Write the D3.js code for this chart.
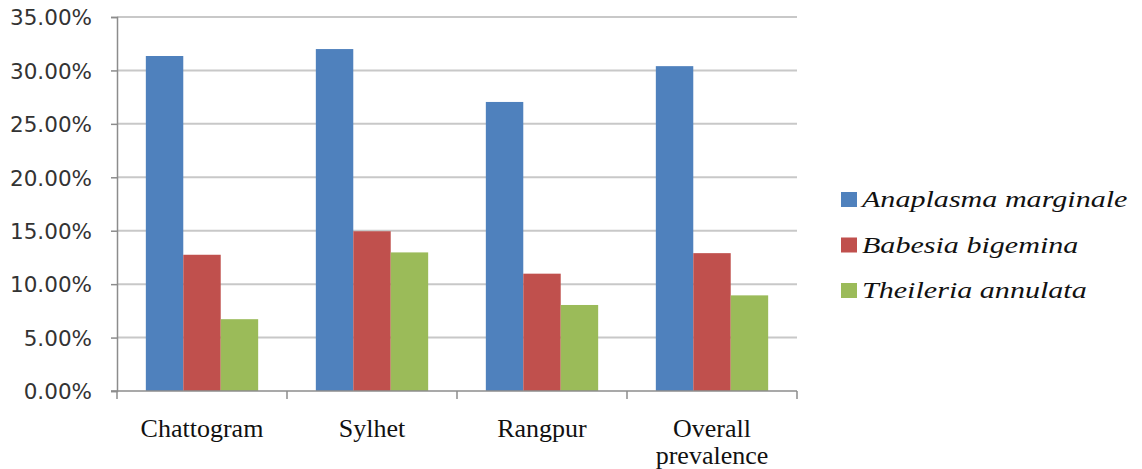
<!DOCTYPE html>
<html>
<head>
<meta charset="utf-8">
<script src="https://cdnjs.cloudflare.com/ajax/libs/d3/7.8.5/d3.min.js"></script>
<style>
  html, body { margin: 0; padding: 0; background: #fff; }
  svg { display: block; }
</style>
</head>
<body>
<svg id="chart" width="1142" height="469"></svg>
<script>
// Regions and prevalence (%) per parasite
const categories = ["Chattogram", "Sylhet", "Rangpur", "Overall prevalence"];
const seriesNames = ["Anaplasma marginale", "Babesia bigemina", "Theileria annulata"];
const anaplasma = [31.35, 32.0, 27.05, 30.4];
const babesia = [12.75, 14.95, 10.98, 12.9];
const theileria = [6.72, 12.97, 8.05, 8.95];
const yTicks = [0, 5, 10, 15, 20, 25, 30, 35];
const colors = ["#4f81bd", "#c0504d", "#9bbb59"];

const seriesValues = [anaplasma, babesia, theileria];

const svg = d3.select("#chart");
const margin = { left: 117, right: 345, top: 17, bottom: 78 };
const W = 1142, H = 469;
const plotW = W - margin.left - margin.right;
const plotH = H - margin.top - margin.bottom;

const g = svg.append("g").attr("transform", `translate(${margin.left},${margin.top})`);

const x0 = d3.scaleBand().domain(categories).range([0, plotW]).paddingInner(0).paddingOuter(0);
const x1 = d3.scaleBand().domain(seriesNames).range([0, x0.bandwidth()]).paddingInner(0).paddingOuter(0.77);
const y = d3.scaleLinear().domain([0, 35]).range([plotH, 0]);

// horizontal gridlines
g.append("g").selectAll("line").data(yTicks.filter(t => t > 0)).join("line")
  .attr("x1", 0).attr("x2", plotW)
  .attr("y1", d => y(d)).attr("y2", d => y(d))
  .attr("stroke", "#c8c8c8").attr("stroke-width", 2);

// bars
const groups = g.append("g").selectAll("g").data(categories).join("g")
  .attr("transform", d => `translate(${x0(d)},0)`);
groups.selectAll("rect")
  .data((d, i) => seriesNames.map((s, j) => ({ s, v: seriesValues[j][i], c: colors[j] })))
  .join("rect")
  .attr("x", d => x1(d.s))
  .attr("width", x1.bandwidth())
  .attr("y", d => y(d.v))
  .attr("height", d => plotH - y(d.v))
  .attr("fill", d => d.c);

// y axis
const yAxis = d3.axisLeft(y).tickValues(yTicks).tickSize(6).tickFormat(d => d.toFixed(2) + "%");
const ya = g.append("g").call(yAxis);
ya.select(".domain").attr("stroke", "#8c8c8c").attr("stroke-width", 1.5);
ya.selectAll(".tick line").attr("stroke", "#8c8c8c").attr("stroke-width", 1.5);
ya.selectAll(".tick text")
  .attr("x", -25)
  .attr("dy", "0.36em")
  .attr("font-family", "DejaVu Sans, Verdana, sans-serif")
  .attr("font-size", 21.5).attr("fill", "#333");

// x axis with ticks between categories
const xa = g.append("g").attr("transform", `translate(0,${plotH})`);
xa.append("line").attr("x1", -6).attr("x2", plotW).attr("y1", 0).attr("y2", 0)
  .attr("stroke", "#8c8c8c").attr("stroke-width", 1.5);
xa.selectAll("line.tk").data(d3.range(categories.length + 1)).join("line").attr("class", "tk")
  .attr("x1", i => i * x0.bandwidth()).attr("x2", i => i * x0.bandwidth())
  .attr("y1", 0).attr("y2", 8)
  .attr("stroke", "#8c8c8c").attr("stroke-width", 1.5);

const xl = xa.selectAll("text").data(categories).join("text")
  .attr("x", d => x0(d) + x0.bandwidth() / 2)
  .attr("text-anchor", "middle")
  .attr("font-family", "Liberation Serif, Times New Roman, serif")
  .attr("font-size", 26).attr("fill", "#111");
xl.each(function (d) {
  const words = d === "Overall prevalence" ? ["Overall", "prevalence"] : [d];
  const t = d3.select(this);
  words.forEach((w, k) => t.append("tspan").attr("x", x0(d) + x0.bandwidth() / 2).attr("y", 46 + k * 27).text(w));
});

// legend (italic species names, set a little wide)
const leg = svg.append("g").attr("transform", "translate(841,199.5)");
const items = leg.selectAll("g").data(seriesNames).join("g")
  .attr("transform", (d, i) => `translate(0,${i * 45.5})`);
items.append("rect").attr("x", 0).attr("y", -7.5).attr("width", 16).attr("height", 15)
  .attr("fill", (d, i) => colors[i]);
items.append("text").attr("x", 21).attr("y", 7.5)
  .attr("font-family", "Liberation Serif, Times New Roman, serif")
  .attr("font-style", "italic").attr("font-size", 23.5).attr("fill", "#111")
  .text(d => d)
  .each(function () {
    const w = this.getComputedTextLength();
    d3.select(this).attr("textLength", w * 1.28).attr("lengthAdjust", "spacingAndGlyphs");
  });
</script>
</body>
</html>
